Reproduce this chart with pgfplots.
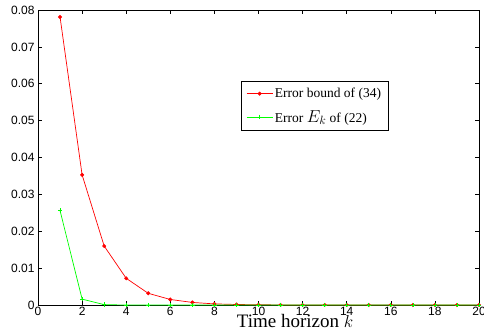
\documentclass[border=0pt]{standalone}
\usepackage{fontspec}
\setmainfont{Liberation Serif}
\newfontfamily\helv{Liberation Sans}
\usepackage{pgfplots}
\pgfplotsset{compat=1.18}
\begin{document}
\begin{tikzpicture}
\begin{axis}[
  at={(0,0)}, anchor=south west,
  scale only axis, width=441pt, height=295pt,
  xmin=0, xmax=20, ymin=0, ymax=0.08,
  xtick={0,2,...,20},
  ytick={0,0.01,...,0.08},
  yticklabel style={/pgf/number format/fixed,/pgf/number format/precision=2},
  scaled y ticks=false,
  /pgf/number format/assume math mode=true,
  tick label style={font=\helv\fontsize{12}{12}\selectfont, text=black},
  xticklabel style={yshift=1pt},
  tick align=inside,
  major tick length=4pt,
  axis line style={line width=0.9pt},
  every tick/.style={black, line width=0.6pt},
  xlabel={Time horizon $k$},
  xlabel style={font=\fontsize{19}{19}\selectfont, at={(axis description cs:0.583,0)}, anchor=base, yshift=-22pt},
  legend style={at={(axis description cs:0.46,0.76)}, anchor=north west, draw=black, line width=0.8pt, font=\fontsize{13.5}{14}\selectfont, row sep=7pt, inner xsep=5pt, inner ysep=5pt},
  legend cell align=left,
  legend image code/.code={\draw[#1] (0pt,0pt) -- (13pt,0pt) (13pt,0pt) -- (26pt,0pt); \draw[#1, mark repeat=1] plot coordinates {(13pt,0pt)};},
]
\addplot[red, line width=0.7pt, mark=*, mark size=1.6pt, mark options={solid, fill=red}] coordinates {
(1,0.0781) (2,0.0353) (3,0.0160) (4,0.00724) (5,0.00317) (6,0.00150) (7,0.00070) (8,0.00030) (9,0.00014) (10,0.00006)
(11,0.000028) (12,0.000013) (13,0.000006) (14,0.000003) (15,0.0000015) (16,0.0000007) (17,0.0000003) (18,0.0000002) (19,0.0000001) (20,0.00000005)
};
\addlegendentry{Error bound of (34)}
\addplot[green, line width=0.7pt, mark=+, mark size=2.2pt, mark options={solid}] coordinates {
(1,0.0256) (2,0.0016) (3,0.0001) (4,0) (5,0) (6,0) (7,0) (8,0) (9,0) (10,0)
(11,0) (12,0) (13,0) (14,0) (15,0) (16,0) (17,0) (18,0) (19,0) (20,0)
};
\addlegendentry{Error {\fontsize{18}{18}\selectfont$E_{k}$} of (22)}
\end{axis}
\pgfresetboundingbox
\path (-38pt,-28pt) rectangle (446pt,305pt);
\end{tikzpicture}
\end{document}
